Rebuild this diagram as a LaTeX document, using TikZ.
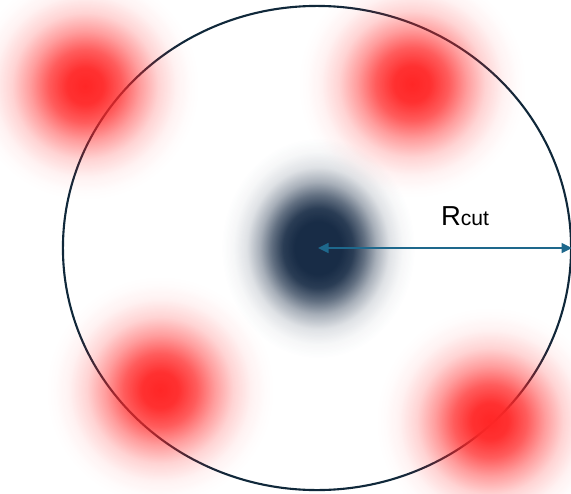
\documentclass[tikz,border=0pt]{standalone}
\usepackage{fontspec}
\setmainfont{Liberation Sans}
\usetikzlibrary{arrows.meta, positioning, shapes.geometric, fadings}

\definecolor{blobred}{RGB}{255,38,38}
\definecolor{coreblue}{RGB}{24,44,70}
\definecolor{rimnavy}{RGB}{16,40,58}
\definecolor{radblue}{RGB}{30,104,140}

% soft masks (white = opaque, black = clear)
\pgfdeclareradialshading{glowmask}{\pgfpoint{0bp}{0bp}}{color(0bp)=(white); color(4bp)=(white!95!black); color(8bp)=(white!75!black); color(12bp)=(white!45!black); color(16bp)=(white!20!black); color(20bp)=(white!6!black); color(23.3bp)=(white!1!black); color(25bp)=(black); color(50bp)=(black)}
\pgfdeclareradialshading{coremask}{\pgfpoint{0bp}{0bp}}{color(0bp)=(white); color(5bp)=(white); color(7.5bp)=(white!92!black); color(10bp)=(white!68!black); color(12.5bp)=(white!38!black); color(15.3bp)=(white!14!black); color(18.1bp)=(white!4!black); color(20.8bp)=(black); color(50bp)=(black)}
\pgfdeclarefading{glowfade}{\pgfuseshading{glowmask}}
\pgfdeclarefading{corefade}{\pgfuseshading{coremask}}

\begin{document}
\begin{tikzpicture}[
      x=0.025cm, y=-0.025cm,
      glow/.style={circle, inner sep=0pt, minimum size=5.7cm, fill=blobred, path fading=glowfade},
      centre/.style={ellipse, inner sep=0pt, minimum width=5.8cm, minimum height=6.6cm, fill=coreblue, path fading=corefade},
      cutoff/.style={ellipse, draw=rimnavy, line width=1.5pt, inner sep=0pt, minimum width=12.7cm, minimum height=12.1cm},
      arrow/.style={{Triangle[length=7.5pt, width=7pt]}-{Triangle[length=7.5pt, width=7pt]}, radblue, line width=1.4pt}
  ]
      \useasboundingbox (0,0) rectangle (571,493);

      % Cutoff sphere
      \node[cutoff] (sphere) at (317,248) {};

      % Neighbour atoms
      \node[glow] (nbA) at (85,86) {};
      \node[glow] (nbB) at (412,84) {};
      \node[glow] (nbC) at (160,390) {};
      \node[glow] (nbD) at (490,421) {};

      % Central atom
      \node[centre] (core) at (318,248) {};

      % Radius
      \draw[arrow] (core.center) -- (sphere.east);
      \node[font=\fontsize{19.5}{23}\selectfont] (rcut) at (465,216) {R\fontsize{15}{18}\selectfont cut};
  \end{tikzpicture}
\end{document}
